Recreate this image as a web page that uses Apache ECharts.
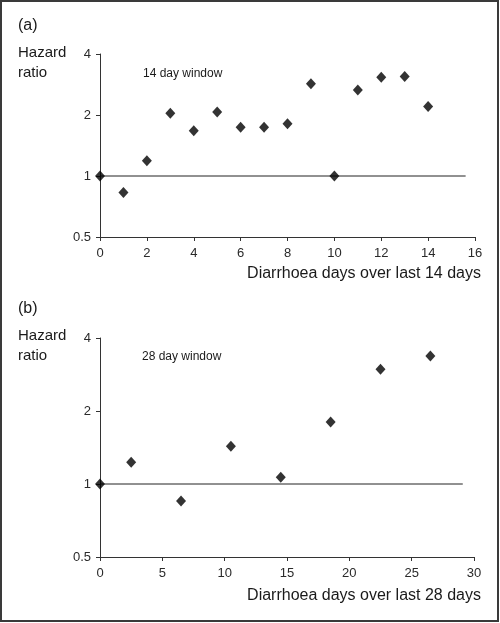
<!DOCTYPE html>
<html>
<head>
<meta charset="utf-8">
<script src="https://cdn.jsdelivr.net/npm/echarts@6/dist/echarts.min.js"></script>
<style>
html,body{margin:0;padding:0;background:#fff;}
#c{width:500px;height:623px;}
</style>
</head>
<body>
<div id="c"></div>
<script>
// Panel (a): 14 day window
const daysA = [0,1,2,3,4,5,6,7,8,9,10,11,12,13,14];
const hrA = [1.0,0.83,1.19,2.04,1.67,2.07,1.74,1.74,1.81,2.85,1.0,2.66,3.07,3.10,2.20];
const refLineA = [[0,1],[15.6,1]];
const xTicksA = {min:0, max:16, interval:2};

// Panel (b): 28 day window
const daysB = [0,2.5,6.5,10.5,14.5,18.5,22.5,26.5];
const hrB = [1.0,1.23,0.85,1.43,1.066,1.80,2.97,3.37];
const refLineB = [[0,1],[29.1,1]];
const xTicksB = {min:0, max:30, interval:5};

const yTicks = [0.5,1,2,4];

const FONT = '"Liberation Sans", Arial, sans-serif';
const axisCol = '#333';

function xAxisCfg(idx, t){
  return {
    type:'value', gridIndex:idx, min:t.min, max:t.max, interval:t.interval,
    axisLine:{show:true, onZero:false, lineStyle:{color:axisCol, width:1}},
    axisTick:{show:true, length:4, lineStyle:{color:axisCol}},
    axisLabel:{color:'#2a2a2a', fontFamily:FONT, fontSize:13, margin:10},
    splitLine:{show:false}
  };
}
function yAxisCfg(idx){
  return {
    type:'log', logBase:2, gridIndex:idx, min:yTicks[0], max:yTicks[yTicks.length-1],
    axisLine:{show:true, onZero:false, lineStyle:{color:axisCol, width:1}},
    axisTick:{show:true, length:4, lineStyle:{color:axisCol}},
    axisLabel:{color:'#2a2a2a', fontFamily:FONT, fontSize:13, margin:9,
      formatter:v=>String(Math.round(v*100)/100)},
    splitLine:{show:false}, minorTick:{show:false}
  };
}
function pts(xs, ys){ return xs.map((x,i)=>[x, ys[i]]); }

const chart = echarts.init(document.getElementById('c'), null, {renderer:'canvas'});
const txt = (x,y,s,size,align) => ({type:'text', x:x, y:y,
  style:{text:s, x:0, y:0, fill:'#1a1a1a', font:size+'px '+FONT, textAlign:align||'left', textVerticalAlign:'middle'}});

chart.setOption({
  backgroundColor:'#fff',
  animation:false,
  grid:[
    {left:100, top:54, width:375, height:183},
    {left:100, top:338, width:374, height:219}
  ],
  xAxis:[xAxisCfg(0,xTicksA), xAxisCfg(1,xTicksB)],
  yAxis:[yAxisCfg(0), yAxisCfg(1)],
  series:[
    {type:'line', xAxisIndex:0, yAxisIndex:0, data:refLineA, symbol:'none',
      lineStyle:{color:'#222', width:1}, z:1},
    {type:'scatter', xAxisIndex:0, yAxisIndex:0, data:pts(daysA,hrA),
      symbol:'diamond', symbolSize:[10,11], itemStyle:{color:'#000'}, z:3},
    {type:'line', xAxisIndex:1, yAxisIndex:1, data:refLineB, symbol:'none',
      lineStyle:{color:'#222', width:1}, z:1},
    {type:'scatter', xAxisIndex:1, yAxisIndex:1, data:pts(daysB,hrB),
      symbol:'diamond', symbolSize:[10,11], itemStyle:{color:'#000'}, z:3}
  ],
  graphic:[
    {type:'rect', shape:{x:1, y:1, width:497, height:620},
      style:{fill:'none', stroke:'#3a3a3a', lineWidth:2}, z:10},
    txt(18,26,'(a)',16),
    txt(18,53,'Hazard',15),
    txt(18,73,'ratio',15),
    txt(143,74,'14 day window',12),
    txt(481,274,'Diarrhoea days over last 14 days',16,'right'),
    txt(18,309,'(b)',16),
    txt(18,336,'Hazard',15),
    txt(18,356,'ratio',15),
    txt(142,357,'28 day window',12),
    txt(481,596,'Diarrhoea days over last 28 days',16,'right')
  ]
});
</script>
</body>
</html>
